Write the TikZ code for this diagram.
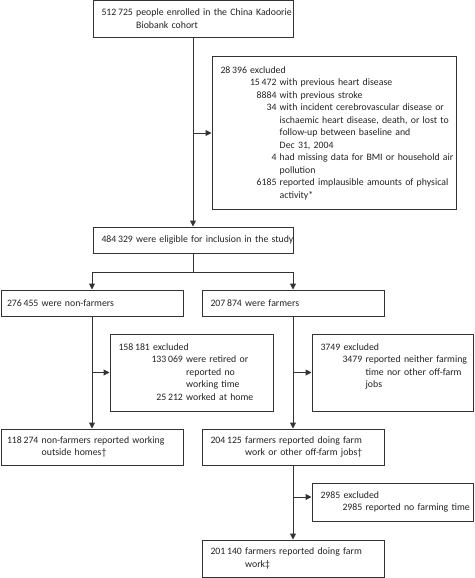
\documentclass[tikz,border=0pt]{standalone}
\usepackage{fontspec}
\setmainfont{Carlito}
\usetikzlibrary{arrows.meta, calc}
\definecolor{linegray}{HTML}{333333}
\definecolor{textgray}{HTML}{222222}

\begin{document}
\begin{tikzpicture}[x=1pt, y=-1pt,
    font=\fontsize{9.8}{12.5}\selectfont,
    box/.style={draw=linegray, line width=1pt, inner xsep=8.5pt, inner ysep=0pt, align=left, text=textgray},
    arr/.style={draw=linegray, line width=1pt, -{Triangle[length=6pt, width=6pt]}},
    ln/.style={draw=linegray, line width=1pt}]

    \useasboundingbox (0,0) rectangle (474,578);

    % Enrolment
    \node[box, text width=183pt, minimum height=37pt] (enrol) at (193,19.5)
        {\begin{tabular}{@{}l@{\ }l@{}}512\,725 & people enrolled in the China Kadoorie\\ & Biobank cohort\end{tabular}};

    % First exclusions
    \node[box, text width=227pt, minimum height=152pt] (excl1) at (334,133)
        {\begin{tabular}{@{\hspace{29.5pt}}r@{\ }l@{}}
            \multicolumn{2}{@{}l@{}}{28\,396 excluded}\\
            15\,472 & with previous heart disease\\
            8884 & with previous stroke\\
            34 & with incident cerebrovascular disease or\\
             & ischaemic heart disease, death, or lost to\\
             & follow-up between baseline and\\
             & Dec 31, 2004\\
            4 & had missing data for BMI or household air\\
             & pollution\\
            6185 & reported implausible amounts of physical\\
             & activity*
        \end{tabular}};

    % Eligible
    \node[box, text width=183pt, minimum height=26pt] (elig) at (193,240)
        {\mbox{484\,329 were eligible for inclusion in the study}};

    % Split into non-farmers / farmers
    \node[box, inner xsep=6pt, text width=170pt, minimum height=26pt] (nonfarm) at (92,303)
        {276\,455 were non-farmers};
    \node[box, text width=165pt, minimum height=26pt] (farm) at (293,303)
        {207\,874 were farmers};

    % Exclusions per branch
    \node[box, text width=146pt, minimum height=77pt] (exclnf) at (191.5,372.5)
        {\begin{tabular}{@{\hspace{33pt}}r@{\ }l@{}}
            \multicolumn{2}{@{}l@{}}{158\,181 excluded}\\
            133\,069 & were retired or\\
             & reported no\\
             & working time\\
            25\,212 & worked at home
        \end{tabular}};
    \node[box, text width=144pt, minimum height=77pt] (exclf) at (392.5,372.5)
        {\begin{tabular}{@{\hspace{22pt}}r@{\ }l@{}}
            \multicolumn{2}{@{}l@{}}{3749 excluded}\\
            3479 & reported neither farming\\
             & time nor other off-farm\\
             & jobs\\
             &
        \end{tabular}};

    % Working populations
    \node[box, inner xsep=6pt, text width=170pt, minimum height=36pt] (nfwork) at (92,447)
        {\begin{tabular}{@{}l@{\ }l@{}}118\,274 & non-farmers reported working\\ & outside homes†\end{tabular}};
    \node[box, text width=165pt, minimum height=36pt] (fwork) at (293,447)
        {\begin{tabular}{@{}l@{\ }l@{}}204\,125 & farmers reported doing farm\\ & work or other off-farm jobs†\end{tabular}};

    % Last exclusion and final sample
    \node[box, text width=144pt, minimum height=38pt] (exclno) at (392.5,502)
        {\begin{tabular}{@{\hspace{22pt}}r@{\ }l@{}}
            \multicolumn{2}{@{}l@{}}{2985 excluded}\\
            2985 & reported no farming time
        \end{tabular}};
    \node[box, text width=165pt, minimum height=37pt] (ffinal) at (293,558.5)
        {\begin{tabular}{@{}l@{\ }l@{}}201\,140 & farmers reported doing farm\\ & work‡\end{tabular}};

    % Connectors
    \draw[arr] (enrol.south) -- (elig.north);
    \draw[arr] (enrol.south |- excl1.west) -- (excl1.west);
    \coordinate (split) at (193,272);
    \draw[ln] (elig.south) -- (split);
    \draw[arr] (split) -| (nonfarm.north);
    \draw[arr] (split) -| (farm.north);
    \draw[arr] (nonfarm.south) -- (nfwork.north);
    \draw[arr] (nonfarm.south |- exclnf.west) -- (exclnf.west);
    \draw[arr] (farm.south) -- (fwork.north);
    \draw[arr] (farm.south |- exclf.west) -- (exclf.west);
    \draw[arr] (fwork.south) -- (ffinal.north);
    \coordinate (noarr) at ($(exclno.west)+(0,-5)$);
    \draw[arr] (fwork.south |- noarr) -- (noarr);

\end{tikzpicture}
\end{document}
